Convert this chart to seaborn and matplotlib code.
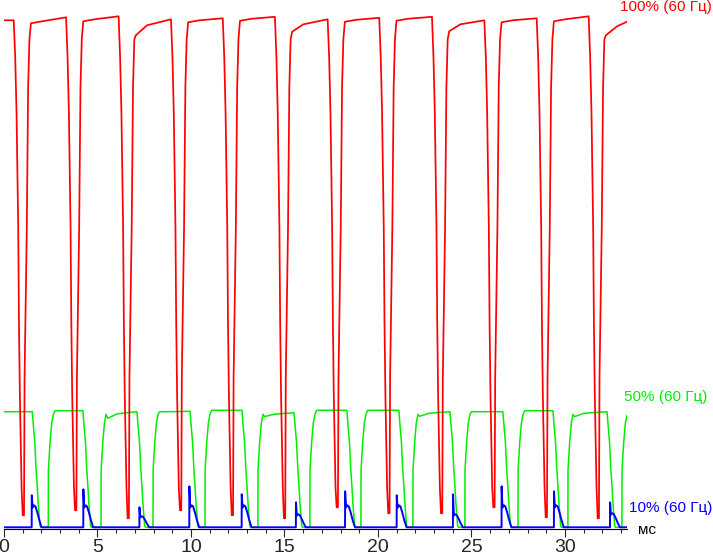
import pandas as pd
import matplotlib
matplotlib.use("Agg")
import matplotlib.pyplot as plt
from matplotlib.ticker import MultipleLocator
import seaborn as sns

sns.set_style("white")
plt.rcParams['font.family'] = ['Liberation Sans', 'DejaVu Sans']

# --- данные (время в мс, уровень в условных единицах) ---
t_end = 33.32

# 100% (красная): моменты минимумов, дно, уровни полки после каждого провала
red_dips = [1.00, 3.80, 6.61, 9.41, 12.18, 14.97, 17.79, 20.55, 23.37, 26.17, 28.97, 31.75]
red_bottom = [12, 17, 9, 17, 12, 9, 20, 14, 14, 20, 10, 9]
red_first = 507
red_start = [504, 506, 492, 505, 506.5, 495.5, 505.5, 506.5, 496, 505, 506, 492]
red_mid = [506, 508, 502, 507, 508.5, 503, 507.5, 508.5, 503, 507, 508, 501]
red_end = [510, 511, 508, 509, 510.5, 508, 509.5, 510.5, 507, 509, 511, 505.6]
# форма фронтов относительно минимума
red_fall_dt = [-0.48, -0.40, -0.33, -0.24, -0.20, -0.15, -0.06]
red_fall_lvl = [None, 470, 415, 300, 205, 130, 40]
red_rise_dt = [0.07, 0.10, 0.16, 0.22, 0.29, 0.36]
red_rise_lvl = [None, 150, 225, 300, 440, 488]
red_plateau_dt = [0.44, 1.04]

# 50% (зелёная): начало спада, начало нарастания, уровни полки
green_fall = [1.51, 4.22, 7.11, 9.95, 12.73, 15.51, 18.34, 21.12, 23.85, 26.68, 29.36, 32.25]
green_rise = [2.37, 5.19, 7.97, 10.75, 13.58, 16.36, 19.09, 21.87, 24.65, 27.49, 30.16, 33.05]
green_first = 115.6
green_start = [116.6, 109, 115.6, 117, 110.7, 117, 117, 111, 115.6, 116.6, 110.7, 112]
green_mid = [116.6, 113.5, 115.6, 117, 113, 117, 117, 114, 115.6, 116.6, 114, 112]
green_end = [116.6, 115.6, 116, 117, 114.6, 117, 117, 115.6, 115.6, 116.6, 115.6, 112]
green_fall_dt = [0.05, 0.14, 0.20, 0.27, 0.32, 0.41, 0.45]
green_fall_lvl = [104, 84, 60, 40, 24, 2, 0]
green_rise_dt = [0.0, 0.005, 0.09, 0.18, 0.27]
green_rise_lvl = [0, 57, 84, 104, 113]
green_plateau_dt = [0.36, 0.86]

# 10% (синяя): начало импульса, пик, «горб»
blue_start = [1.48, 4.24, 7.24, 9.91, 12.71, 15.61, 18.24, 21.00, 24.01, 26.61, 29.41, 32.41]
blue_peak = [32, 38, 20, 41, 33, 25, 36, 32, 33, 41, 36, 25]
blue_hump = [22, 22, 11, 22, 22, 13, 22, 22, 13, 22, 22, 14]
blue_dt = [0.05, 0.12, 0.20, 0.30, 0.41, 0.53]
blue_frac = [0.9, 1.0, 0.95, 0.68, 0.32, 0.0]

labels = {'100%': '100% (60 Гц)', '50%': '50% (60 Гц)', '10%': '10% (60 Гц)'}
colors = {'100%': '#ff0000', '50%': '#00ee00', '10%': '#0000ff'}


def build_red():
    t, v = [0.0], [red_first]
    for k, td in enumerate(red_dips):
        prev = red_first if k == 0 else red_end[k - 1]
        for dt, lv in zip(red_fall_dt, red_fall_lvl):
            t.append(td + dt)
            v.append(prev if lv is None else lv)
        t.append(td)
        v.append(red_bottom[k])
        for dt, lv in zip(red_rise_dt, red_rise_lvl):
            t.append(td + dt)
            v.append(red_bottom[k] if lv is None else lv)
        t += [td + red_plateau_dt[0], td + red_plateau_dt[1]]
        v += [red_start[k], red_mid[k]]
    t.append(t_end)
    v.append(red_end[-1])
    return t, v


def build_green():
    t, v = [0.0], [green_first]
    for k, (tf, tr) in enumerate(zip(green_fall, green_rise)):
        prev = green_first if k == 0 else green_end[k - 1]
        t.append(tf)
        v.append(prev)
        for dt, lv in zip(green_fall_dt, green_fall_lvl):
            t.append(tf + dt)
            v.append(lv)
        for dt, lv in zip(green_rise_dt, green_rise_lvl):
            t.append(tr + dt)
            v.append(lv)
        t += [tr + green_plateau_dt[0], tr + green_plateau_dt[1]]
        v += [green_start[k], green_mid[k]]
    pts = [(a, b) for a, b in zip(t, v) if a < t_end]
    pts.append((t_end, green_start[-1]))
    return [p[0] for p in pts], [p[1] for p in pts]


def build_blue():
    t, v = [0.0], [0.0]
    for k, tb in enumerate(blue_start):
        t += [tb, tb + 0.005]
        v += [0.0, blue_peak[k]]
        for dt, fr in zip(blue_dt, blue_frac):
            t.append(tb + dt)
            v.append(blue_hump[k] * fr)
    t.append(t_end)
    v.append(0.0)
    return t, v


frames = []
for name, fn in [('50%', build_green), ('10%', build_blue), ('100%', build_red)]:
    tt, vv = fn()
    frames.append(pd.DataFrame({'t': tt, 'level': vv, 'series': name}))
df = pd.concat(frames, ignore_index=True)

fig = plt.figure(figsize=(7.13, 5.56), dpi=100)
ax = fig.add_axes([4 / 713, (556 - 528.8) / 556, 623 / 713, 528.8 / 556])

widths = {'50%': 1.1, '10%': 1.4, '100%': 1.25}
for name in ['50%', '10%', '100%']:
    sns.lineplot(data=df[df['series'] == name], x='t', y='level', color=colors[name],
                 estimator=None, sort=False, linewidth=widths[name], ax=ax)

ax.set_xlim(0, t_end)
ax.set_ylim(-1.5, 527.3)
ax.set_xlabel('')
ax.set_ylabel('')
ax.set_yticks([])
for side in ['left', 'top', 'right']:
    ax.spines[side].set_visible(False)
ax.spines['bottom'].set_color('black')
ax.spines['bottom'].set_linewidth(0.8)
ax.xaxis.set_major_locator(MultipleLocator(5))
ax.xaxis.set_minor_locator(MultipleLocator(1))
ax.tick_params(axis='x', which='major', direction='out', length=6, width=0.8,
               labelsize=14, pad=1, bottom=True)
ax.tick_params(axis='x', which='minor', direction='out', length=3, width=0.8, bottom=True)
ax.patch.set_alpha(0)

fig.text(712 / 713, 1 - 6.5 / 556, labels['100%'], ha='right', va='center',
         color=colors['100%'], fontsize=11)
fig.text(707 / 713, 1 - 397.5 / 556, labels['50%'], ha='right', va='center',
         color=colors['50%'], fontsize=11)
fig.text(712 / 713, 1 - 508 / 556, labels['10%'], ha='right', va='center',
         color=colors['10%'], fontsize=11)
fig.text(638 / 713, 1 - 530.5 / 556, 'мс', ha='left', va='center',
         color='black', fontsize=11)

fig.savefig('out.png', dpi=100, facecolor='white')
